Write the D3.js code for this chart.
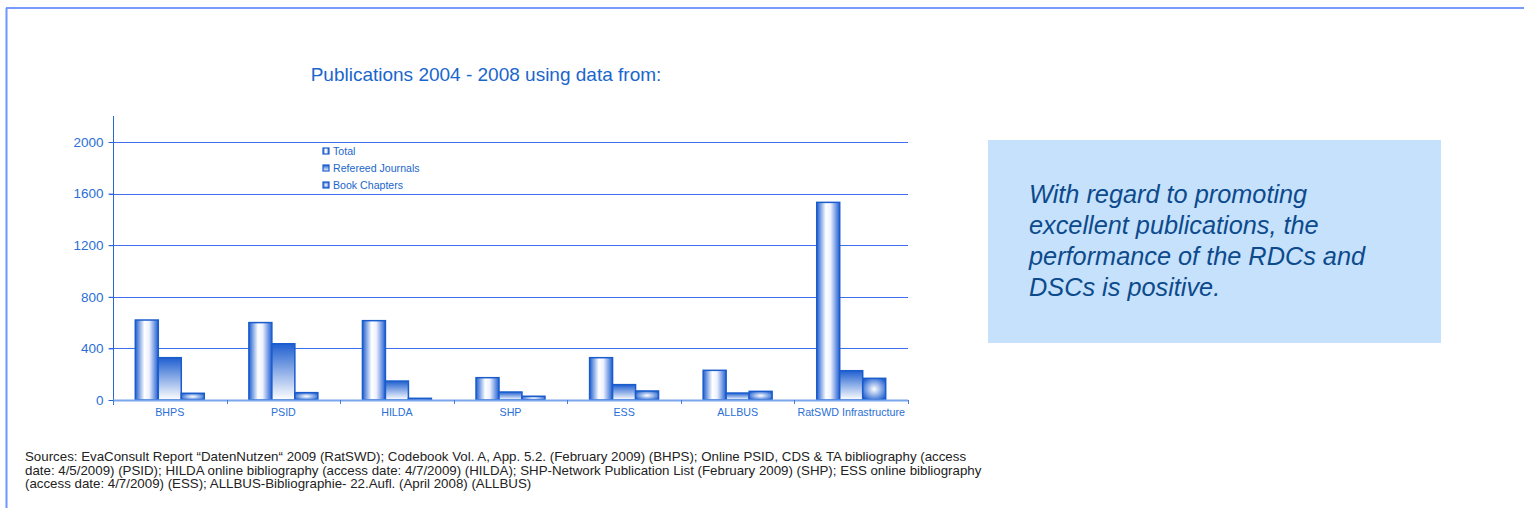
<!DOCTYPE html>
<html>
<head>
<meta charset="utf-8">
<script src="https://d3js.org/d3.v7.min.js"></script>
<style>
  body { margin: 0; background: #fff; }
  svg { display: block; font-family: "Liberation Sans", Arial, sans-serif; }
</style>
</head>
<body>
<div id="vis"></div>
<script>
// data
let categories = ['BHPS', 'PSID', 'HILDA', 'SHP', 'ESS', 'ALLBUS', 'RatSWD Infrastructure']
let seriesNames = ['Total', 'Refereed Journals', 'Book Chapters']
let total = [620, 600, 615, 173, 328, 230, 1532]
let refereed = [328, 436, 147, 62, 119, 54, 227]
let chapters = [52, 57, 13, 29, 70, 67, 168]
let yTicks = [0, 400, 800, 1200, 1600, 2000]
let sources = [
  'Sources: EvaConsult Report \u201cDatenNutzen\u201c 2009 (RatSWD); Codebook Vol. A, App. 5.2. (February 2009) (BHPS); Online PSID, CDS & TA bibliography (access',
  'date: 4/5/2009) (PSID); HILDA online bibliography (access date: 4/7/2009) (HILDA); SHP-Network Publication List (February 2009) (SHP); ESS online bibliography',
  '(access date: 4/7/2009) (ESS); ALLBUS-Bibliographie- 22.Aufl. (April 2008) (ALLBUS)'
]
let note = ['With regard to promoting', 'excellent publications, the', 'performance of the RDCs and', 'DSCs is positive.']

let W = 1524, H = 508
let plot = { left: 113, right: 908, top: 142, bottom: 400 }

let svg = d3.select('#vis').append('svg')
  .attr('width', W)
  .attr('height', H)

let defs = svg.append('defs')

// cylinder-like gradient for Total
let g1 = defs.append('linearGradient').attr('id', 'gTotal')
  .attr('x1', 0).attr('x2', 1).attr('y1', 0).attr('y2', 0)
g1.append('stop').attr('offset', '0%').attr('stop-color', '#1f5fd0')
g1.append('stop').attr('offset', '40%').attr('stop-color', '#ffffff')
g1.append('stop').attr('offset', '60%').attr('stop-color', '#eef1ff')
g1.append('stop').attr('offset', '100%').attr('stop-color', '#1f5fd0')

// top-to-bottom gradient for Refereed
let g2 = defs.append('linearGradient').attr('id', 'gRef')
  .attr('x1', 0).attr('x2', 0).attr('y1', 0).attr('y2', 1)
g2.append('stop').attr('offset', '0%').attr('stop-color', '#1f5fd0')
g2.append('stop').attr('offset', '100%').attr('stop-color', '#ffffff')

// centre glow for Book Chapters
let g3 = defs.append('radialGradient').attr('id', 'gBook')
  .attr('cx', '50%').attr('cy', '50%').attr('r', '60%')
g3.append('stop').attr('offset', '0%').attr('stop-color', '#ffffff')
g3.append('stop').attr('offset', '100%').attr('stop-color', '#1f5fd0')

let fills = ['url(#gTotal)', 'url(#gRef)', 'url(#gBook)']
let series = [total, refereed, chapters]

// frame lines
svg.append('line').attr('x1', 6).attr('x2', W).attr('y1', 8).attr('y2', 8)
  .attr('stroke', '#4a7bff').attr('stroke-width', 1.5)
svg.append('line').attr('x1', 6.5).attr('x2', 6.5).attr('y1', 8).attr('y2', H)
  .attr('stroke', '#6f95ff').attr('stroke-width', 2)

// title
svg.append('text')
  .attr('x', 486).attr('y', 81)
  .attr('text-anchor', 'middle')
  .attr('font-size', 19)
  .attr('fill', '#1a66cc')
  .text('Publications 2004 - 2008 using data from:')

let x0 = d3.scaleBand().domain(categories).range([plot.left, plot.right]).paddingInner(0).paddingOuter(0)
let x1 = d3.scaleBand().domain(d3.range(3)).range([0, x0.bandwidth()]).paddingInner(0).paddingOuter(0.97)
let y = d3.scaleLinear().domain([0, 2000]).range([plot.bottom, plot.top])

// gridlines
svg.append('g').selectAll('line')
  .data(yTicks.filter(d => d > 0))
  .join('line')
  .attr('x1', plot.left - 4).attr('x2', plot.right)
  .attr('y1', d => Math.round(y(d)) + 0.5).attr('y2', d => Math.round(y(d)) + 0.5)
  .attr('stroke', '#3d6ff0').attr('stroke-width', 1)

// y axis
let yAxis = d3.axisLeft(y).tickValues(yTicks).tickFormat(d3.format('d')).tickSize(5).tickPadding(5)
let ya = svg.append('g').attr('transform', `translate(${plot.left + 0.5},0)`).call(yAxis)
ya.select('.domain').remove()
ya.selectAll('.tick line').attr('stroke', '#2a66d0')
ya.selectAll('.tick text').attr('fill', '#2a6fd6').attr('font-size', 13.5).attr('font-family', '"Liberation Sans", Arial, sans-serif')
svg.append('line').attr('x1', plot.left + 0.5).attr('x2', plot.left + 0.5)
  .attr('y1', 116).attr('y2', plot.bottom + 5)
  .attr('stroke', '#2a66d0')

// bars
let groups = svg.append('g').selectAll('g')
  .data(categories)
  .join('g')
  .attr('transform', d => `translate(${x0(d)},0)`)

groups.selectAll('rect')
  .data((d, i) => series.map((s, k) => ({ k: k, v: s[i] })))
  .join('rect')
  .attr('x', d => x1(d.k))
  .attr('width', x1.bandwidth())
  .attr('y', d => y(d.v))
  .attr('height', d => y(0) - y(d.v))
  .attr('fill', d => fills[d.k])
  .attr('stroke', '#1a5ccc')
  .attr('stroke-width', 1.5)

// x axis baseline and ticks
svg.append('line').attr('x1', plot.left).attr('x2', plot.right)
  .attr('y1', plot.bottom + 0.5).attr('y2', plot.bottom + 0.5)
  .attr('stroke', '#7aa6ec').attr('stroke-width', 2)
let xTickPos = categories.map(c => x0(c)).concat([plot.right])
svg.append('g').selectAll('line')
  .data(xTickPos)
  .join('line')
  .attr('x1', d => Math.round(d) + 0.5).attr('x2', d => Math.round(d) + 0.5)
  .attr('y1', plot.bottom).attr('y2', plot.bottom + 4)
  .attr('stroke', '#4a7ad8')
svg.append('g').selectAll('text')
  .data(categories)
  .join('text')
  .attr('x', d => x0(d) + x0.bandwidth() / 2)
  .attr('y', 416)
  .attr('text-anchor', 'middle')
  .attr('font-size', 10.7)
  .attr('fill', '#2a6fd6')
  .text(d => d)

// legend
let leg = svg.append('g').attr('transform', 'translate(323,147)')
let legItems = leg.selectAll('g')
  .data(seriesNames)
  .join('g')
  .attr('transform', (d, i) => `translate(0,${i * 17})`)
legItems.append('rect')
  .attr('x', 0).attr('y', 1).attr('width', 6).attr('height', 6)
  .attr('fill', (d, i) => fills[i])
  .attr('stroke', '#1a5ccc').attr('stroke-width', 1.2)
legItems.append('text')
  .attr('x', 10).attr('y', 8)
  .attr('font-size', 10.6)
  .attr('fill', '#1a66cc')
  .text(d => d)

// note box
svg.append('rect')
  .attr('x', 988).attr('y', 140).attr('width', 453).attr('height', 203)
  .attr('fill', '#c5e1fb')
svg.append('g').selectAll('text')
  .data(note)
  .join('text')
  .attr('x', 1029)
  .attr('y', (d, i) => 203 + i * 31)
  .attr('font-size', 25.3)
  .attr('font-style', 'italic')
  .attr('fill', '#0d4a8c')
  .text(d => d)

// sources
svg.append('g').selectAll('text')
  .data(sources)
  .join('text')
  .attr('x', 25)
  .attr('y', (d, i) => 461 + i * 13.5)
  .attr('font-size', 13.3)
  .attr('fill', '#222')
  .text(d => d)
</script>
</body>
</html>
